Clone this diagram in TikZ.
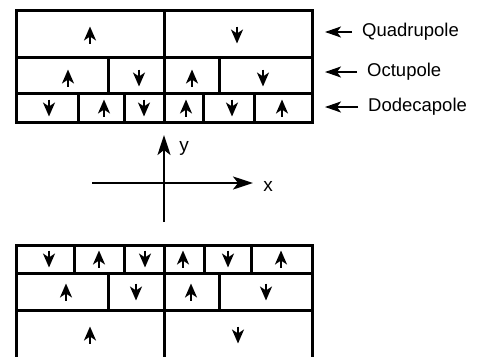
\documentclass[tikz,border=0pt]{standalone}
\usepackage{fontspec}
\setmainfont{Liberation Sans}
\usetikzlibrary{arrows.meta}

\begin{document}
\begin{tikzpicture}[x=1pt,y=-1pt,
  wall/.style={line width=3pt},
  pole/.style={line width=2pt,-{Stealth[length=14pt,width=12pt,inset=4pt]}},
  pointer/.style={line width=1.8pt,-{Stealth[length=16pt,width=11pt,inset=4pt]}},
  axis/.style={line width=2.2pt,-{Stealth[length=20pt,width=13pt,inset=5pt]}},
  lbl/.style={anchor=west,inner xsep=10pt,inner ysep=0pt,font=\fontsize{18.5}{20}\selectfont}]

\useasboundingbox (0,0) rectangle (481,356);

% Upper magnet
\draw[wall] (16,10) rectangle (312,122);
\draw[wall] (16,57) -- (312,57);
\draw[wall] (16,93) -- (312,93);
\draw[wall] (164,10) -- (164,122);
\foreach \x in {108,219} \draw[wall] (\x,57) -- (\x,93);
\foreach \x in {78,124,203,254} \draw[wall] (\x,93) -- (\x,122);

% Field directions, upper magnet (1 = up, -1 = down)
\foreach \x/\c/\d in {90/35/1, 237/35/-1,
    68/78/1, 139/78/-1, 192/78/1, 263/78/-1,
    49/108/-1, 104/108/1, 144/108/-1, 186/108/1, 232/108/-1, 282/108/1}
  \draw[pole] (\x,{\c+\d*8.5}) -- (\x,{\c-\d*8.5});

% Labels
\coordinate (quadtip) at (325,32);
\coordinate (octtip) at (325,72);
\coordinate (dodtip) at (325,107);
\node[lbl] (quad) at (352,32) {Quadrupole};
\node[lbl] (oct) at (357,72) {Octupole};
\node[lbl] (dod) at (358,107) {Dodecapole};
\draw[pointer] (quad.west) -- (quadtip);
\draw[pointer] (oct.west) -- (octtip);
\draw[pointer] (dod.west) -- (dodtip);

% Axes
\coordinate (xstart) at (92,183);
\coordinate (xend) at (253,183);
\coordinate (ystart) at (164,222);
\coordinate (yend) at (164,135);
\draw[axis] (xstart) -- (xend);
\draw[axis] (ystart) -- (yend);
\node[inner sep=0pt,font=\fontsize{19}{20}\selectfont] (xlab) at (268,186) {x};
\node[inner sep=0pt,font=\fontsize{19}{20}\selectfont] (ylab) at (184,148.5) {y};

% Lower magnet
\draw[wall] (16,360) -- (16,245) -- (312,245) -- (312,360);
\draw[wall] (16,273) -- (312,273);
\draw[wall] (16,310) -- (312,310);
\draw[wall] (164,245) -- (164,360);
\foreach \x in {74,124,204,251} \draw[wall] (\x,245) -- (\x,273);
\foreach \x in {108,219} \draw[wall] (\x,273) -- (\x,310);

% Field directions, lower magnet
\foreach \x/\c/\d in {49/259/-1, 99/259/1, 145/259/-1, 183/259/1, 228/259/-1, 281/259/1,
    66/292/1, 136/292/-1, 191/292/1, 266/292/-1,
    90/335/1, 238/335/-1}
  \draw[pole] (\x,{\c+\d*8.5}) -- (\x,{\c-\d*8.5});

\end{tikzpicture}
\end{document}
